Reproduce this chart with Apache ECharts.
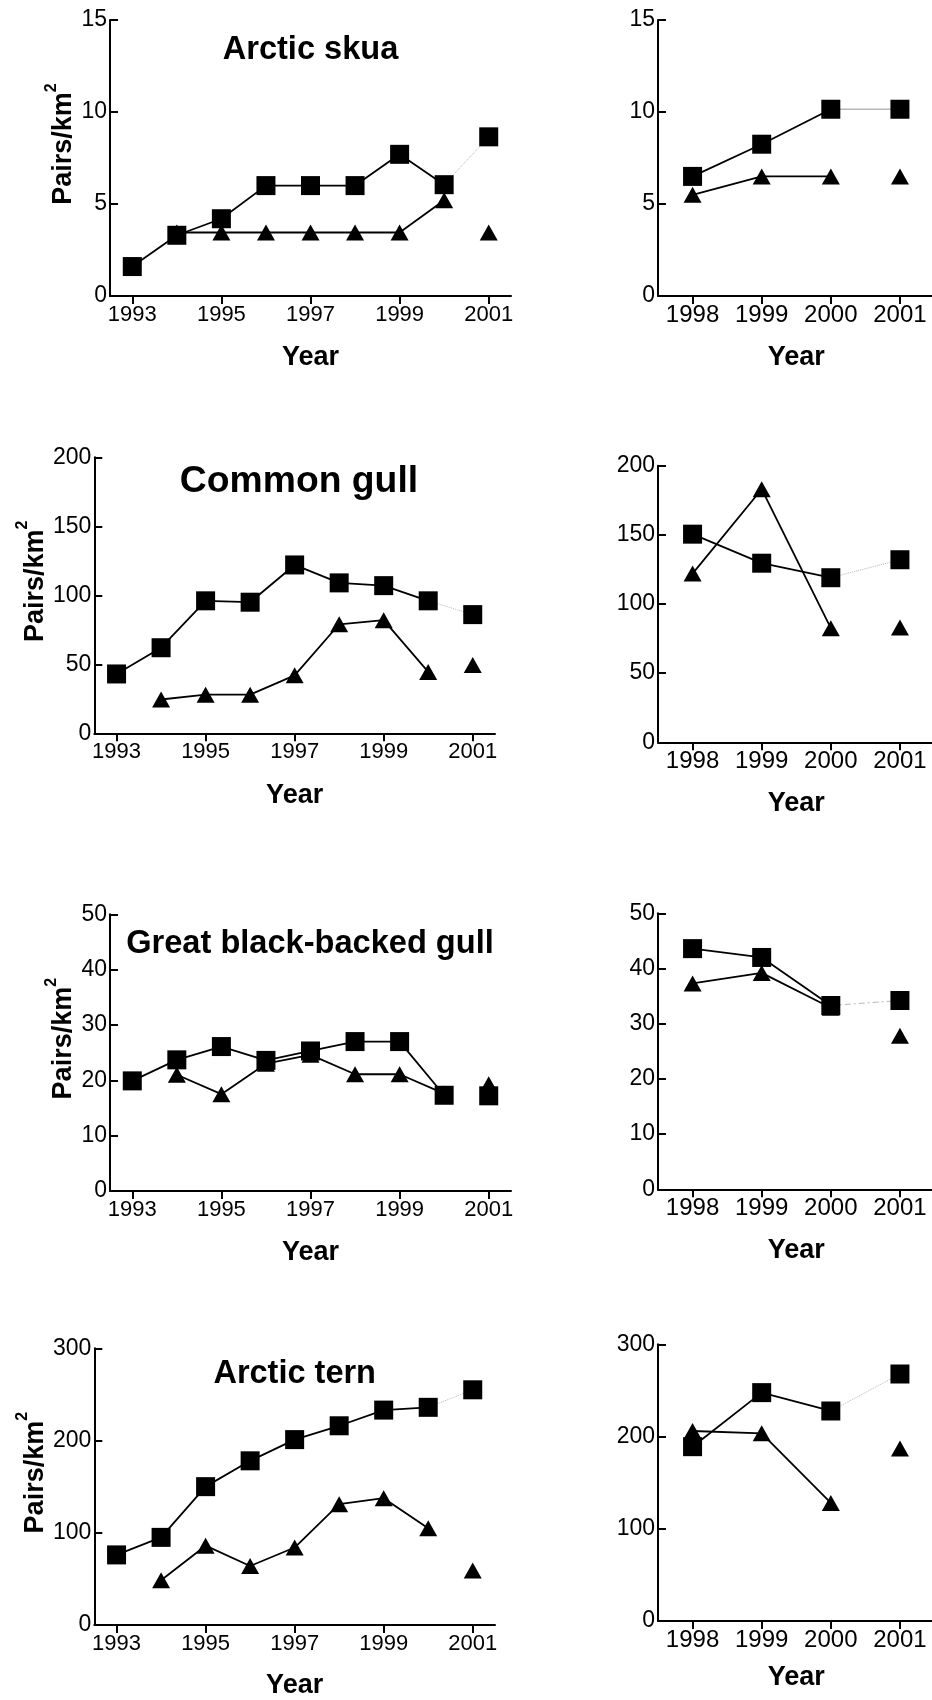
<!DOCTYPE html>
<html>
<head>
<meta charset="utf-8">
<script src="https://cdn.jsdelivr.net/npm/echarts@6/dist/echarts.min.js"></script>
<style>
  html, body { margin: 0; padding: 0; background: #fff; }
  #chart { width: 932px; height: 1700px; }
</style>
</head>
<body>
<div id="chart"></div>
<script>
// ---------------- DATA ----------------
const yearsLong  = [1993, 1994, 1995, 1996, 1997, 1998, 1999, 2000, 2001];
const yearsShort = [1998, 1999, 2000, 2001];
const tickYearsLong  = [1993, 1995, 1997, 1999, 2001];
const tickYearsShort = [1998, 1999, 2000, 2001];

// Arctic skua
const skuaSquareLong    = [1.6, 3.3, 4.2, 6.0, 6.0, 6.0, 7.7, 6.05, 8.65];
const skuaTriangleLong  = [null, 3.45, 3.45, 3.45, 3.45, 3.45, 3.45, 5.2, 3.45];
const skuaSquareShort   = [6.5, 8.25, 10.15, 10.15];
const skuaTriangleShort = [5.5, 6.5, 6.5, 6.5];

// Common gull
const cgSquareLong    = [43, 62, 96, 95, 122, 109, 107, 96, 86];
const cgTriangleLong  = [null, 24.5, 28, 28, 42, 79, 82, 44.5, 49.5];
const cgSquareShort   = [150.5, 129.5, 119, 132];
const cgTriangleShort = [122, 183, 82.5, 83];

// Great black-backed gull
const gbbSquareLong    = [19.9, 23.7, 26.1, 23.6, 25.3, 27, 27, 17.3, 17.2];
const gbbTriangleLong  = [null, 21, 17.5, 23, 24.6, 21.1, 21.1, 17.6, 19.3];
const gbbSquareShort   = [43.6, 42, 33.3, 34.2];
const gbbTriangleShort = [37.3, 39.2, 32.9, 27.8];

// Arctic tern
const atSquareLong    = [76, 95, 150, 178, 201, 216, 233, 236, 255];
const atTriangleLong  = [null, 48.5, 86, 64, 84, 131, 137.5, 105, 59];
const atSquareShort   = [189, 247.6, 227.7, 267.8];
const atTriangleShort = [206, 203.5, 128, 187];

// Titles, axis names and axis ranges
const speciesTitles = ['Arctic skua', 'Common gull', 'Great black-backed gull', 'Arctic tern'];
const yMax      = [15, 200, 50, 300];
const yInterval = [5, 50, 10, 100];
const xAxisName = 'Year';
const yAxisNameMain = 'Pairs/km';
const yAxisNameSup  = '2';

// ---------------- LAYOUT / STYLE ----------------
const FONT = '"Liberation Sans", Arial, Helvetica, sans-serif';
const panels = [
  { x: yearsLong,  ticks: tickYearsLong,  sq: skuaSquareLong,  tri: skuaTriangleLong,  row: 0, long: true,  grid: [110, 20, 401, 276],          link: [1, 'dotted'],     xGap: 48.5 },
  { x: yearsShort, ticks: tickYearsShort, sq: skuaSquareShort, tri: skuaTriangleShort, row: 0, long: false, grid: [658, 20, 276.5, 276],        link: [1.5, 'solid'],    xGap: 48 },
  { x: yearsLong,  ticks: tickYearsLong,  sq: cgSquareLong,    tri: cgTriangleLong,    row: 1, long: true,  grid: [94.3, 457.3, 400.7, 276],    link: [1, 'dotted'],     xGap: 49 },
  { x: yearsShort, ticks: tickYearsShort, sq: cgSquareShort,   tri: cgTriangleShort,   row: 1, long: false, grid: [658, 465.7, 276.5, 276.6],   link: [1, 'dotted'],     xGap: 48 },
  { x: yearsLong,  ticks: tickYearsLong,  sq: gbbSquareLong,   tri: gbbTriangleLong,   row: 2, long: true,  grid: [110, 914.3, 401, 276.7],     link: null,              xGap: 48 },
  { x: yearsShort, ticks: tickYearsShort, sq: gbbSquareShort,  tri: gbbTriangleShort,  row: 2, long: false, grid: [658, 913.3, 276.5, 276],     link: [1, [6, 3, 2, 3]], xGap: 47.5 },
  { x: yearsLong,  ticks: tickYearsLong,  sq: atSquareLong,    tri: atTriangleLong,    row: 3, long: true,  grid: [94.3, 1348.3, 400.7, 276.7], link: [1, 'dotted'],     xGap: 47.5 },
  { x: yearsShort, ticks: tickYearsShort, sq: atSquareShort,   tri: atTriangleShort,   row: 3, long: false, grid: [658, 1344.3, 276.5, 276.7],  link: [1, 'dotted'],     xGap: 43 }
];
const yNameGap = [25, 37, 25, 37];
const titlePos = [
  { x: 310.5, y: 50,     size: 32.6 },
  { x: 299,   y: 481.7,  size: 37.3 },
  { x: 310,   y: 944,    size: 32.6 },
  { x: 294.7, y: 1373.7, size: 32.5 }
];
const LONG_LABEL_SIZE = 22, LONG_LABEL_MARGIN = 8;

const grids = [], xAxes = [], yAxes = [], series = [];

panels.forEach((p, i) => {
  const n = p.x.length;
  grids.push({ left: p.grid[0], top: p.grid[1], width: p.grid[2], height: p.grid[3], outerBoundsMode: 'none', containLabel: false });

  xAxes.push({
    gridIndex: i, type: 'value', min: p.x[0] - 0.5, max: p.x[n - 1] + 0.5, scale: true,
    axisLine: { show: true, onZero: false, lineStyle: { color: '#000', width: 2 } },
    axisTick: { show: true, customValues: p.ticks, length: 8, lineStyle: { color: '#000', width: 2 } },
    axisLabel: {
      // long panels: labels are drawn below as text placed through the axis scale
      show: !p.long,
      customValues: p.ticks, formatter: v => String(v),
      margin: 7, fontSize: 24, color: '#000', fontFamily: FONT,
      showMinLabel: true, showMaxLabel: true, hideOverlap: false
    },
    splitLine: { show: false },
    name: xAxisName, nameLocation: 'middle', nameGap: p.xGap,
    nameTextStyle: { fontSize: 27, fontWeight: 'bold', color: '#000', fontFamily: FONT }
  });

  const y = {
    gridIndex: i, type: 'value', min: 0, max: yMax[p.row], interval: yInterval[p.row],
    axisLine: { show: true, lineStyle: { color: '#000', width: 2 } },
    axisTick: { show: true, inside: true, length: 8, lineStyle: { color: '#000', width: 2 } },
    axisLabel: { margin: 3, fontSize: 23, color: '#000', fontFamily: FONT, hideOverlap: false },
    splitLine: { show: false }
  };
  if (p.long) {
    y.name = '{a|' + yAxisNameMain + '}{b|' + yAxisNameSup + '}';
    y.nameLocation = 'middle';
    y.nameGap = yNameGap[p.row];
    y.nameTextStyle = {
      padding: [0, 0, 0, 28],
      rich: {
        a: { fontSize: 27, fontWeight: 'bold', color: '#000', fontFamily: FONT, lineHeight: 41 },
        b: { fontSize: 16, fontWeight: 'bold', color: '#000', fontFamily: FONT, lineHeight: 16, verticalAlign: 'top' }
      }
    };
  }
  yAxes.push(y);

  const base = {
    type: 'line', xAxisIndex: i, yAxisIndex: i, showAllSymbol: true,
    animation: false, silent: true, emphasis: { disabled: true },
    itemStyle: { color: '#000' }, lineStyle: { color: '#000', width: 1.8 }
  };
  const pairs = (arr, from, to) => arr
    .map((v, k) => [p.x[k], v, k])
    .filter(d => d[1] != null && d[2] >= from && d[2] <= to)
    .map(d => [d[0], d[1]]);

  if (p.link) {
    series.push(Object.assign({}, base, {
      data: pairs(p.sq, n - 2, n - 1), symbol: 'none', z: 1,
      lineStyle: { color: '#b8b8b8', width: p.link[0], type: p.link[1] }
    }));
  }
  const triSym = { symbol: 'triangle', symbolSize: [18, 16] };
  const sqSym  = { symbol: 'rect', symbolSize: 19 };
  series.push(Object.assign({}, base, triSym, { data: pairs(p.tri, 0, n - 2), z: 2 }));
  series.push(Object.assign({}, base, triSym, { data: pairs(p.tri, n - 1, n - 1), z: 2 }));
  series.push(Object.assign({}, base, sqSym, { data: pairs(p.sq, 0, n - 2), z: 3 }));
  series.push(Object.assign({}, base, sqSym, { data: pairs(p.sq, n - 1, n - 1), z: 3 }));
});

const chart = echarts.init(document.getElementById('chart'), null, { renderer: 'canvas' });
chart.setOption({
  backgroundColor: '#fff',
  animation: false,
  grid: grids, xAxis: xAxes, yAxis: yAxes, series: series
});

// Titles
const graphic = speciesTitles.map((t, k) => ({
  type: 'text', x: titlePos[k].x, y: titlePos[k].y, silent: true,
  style: {
    text: t, fill: '#000', fontSize: titlePos[k].size, fontWeight: 'bold', fontFamily: FONT,
    align: 'center', verticalAlign: 'middle', textAlign: 'center', textVerticalAlign: 'middle'
  }
}));
// Year tick labels of the long (1993-2001) panels, placed through each axis' own scale
panels.forEach((p, i) => {
  if (!p.long) return;
  p.ticks.forEach(t => {
    const pt = chart.convertToPixel({ gridIndex: i }, [t, 0]);
    graphic.push({
      type: 'text', x: pt[0], y: pt[1] + LONG_LABEL_MARGIN, silent: true,
      style: {
        text: String(t), fill: '#000', fontSize: LONG_LABEL_SIZE, fontWeight: 'normal', fontFamily: FONT,
        align: 'center', verticalAlign: 'top', textAlign: 'center', textVerticalAlign: 'top'
      }
    });
  });
});
chart.setOption({ graphic: graphic });
</script>
</body>
</html>
